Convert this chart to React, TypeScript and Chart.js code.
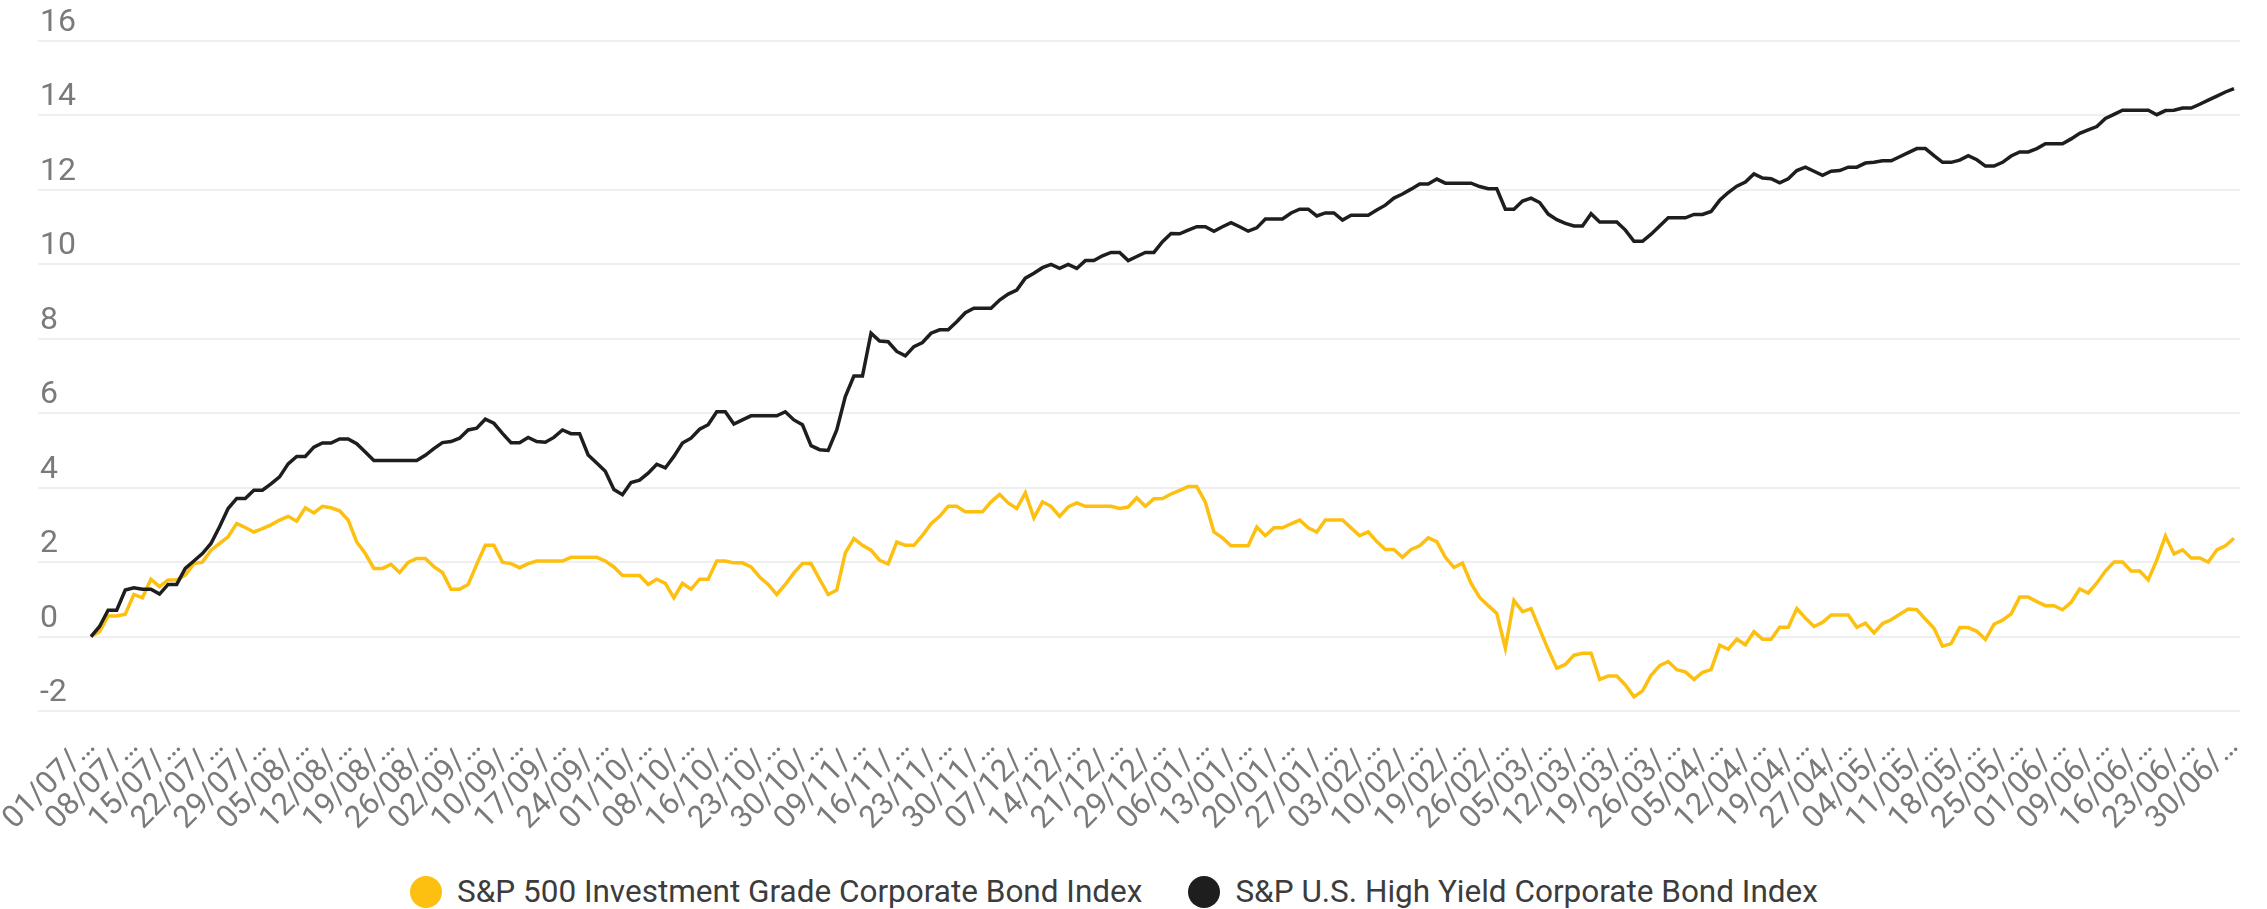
import React, { useEffect, useRef } from 'react';
import { Chart, registerables } from 'chart.js';

Chart.register(...registerables);

// Weekly tick labels (every 5th trading day)
const weekLabels = [
  '01/07', '08/07', '15/07', '22/07', '29/07', '05/08', '12/08', '19/08', '26/08', '02/09',
  '10/09', '17/09', '24/09', '01/10', '08/10', '16/10', '23/10', '30/10', '09/11', '16/11',
  '23/11', '30/11', '07/12', '14/12', '21/12', '29/12', '06/01', '13/01', '20/01', '27/01',
  '03/02', '10/02', '19/02', '26/02', '05/03', '12/03', '19/03', '26/03', '05/04', '12/04',
  '19/04', '27/04', '04/05', '11/05', '18/05', '25/05', '01/06', '09/06', '16/06', '23/06',
  '30/06',
];
const pointsPerTick = 5;

const seriesNames = [
  'S&P 500 Investment Grade Corporate Bond Index',
  'S&P U.S. High Yield Corporate Bond Index',
];
const seriesColors = ['#FDC010', '#1E1E1E'];

// Cumulative return (%) per trading day
const investmentGrade = [
  0.00, 0.13, 0.55, 0.55, 0.60, 1.13, 1.04, 1.54, 1.34, 1.52,
  1.52, 1.65, 1.96, 2.00, 2.32, 2.50, 2.68, 3.04, 2.93, 2.81,
  2.90, 3.00, 3.13, 3.23, 3.10, 3.46, 3.32, 3.50, 3.46, 3.38,
  3.13, 2.54, 2.23, 1.83, 1.83, 1.94, 1.72, 1.99, 2.10, 2.10,
  1.88, 1.72, 1.27, 1.27, 1.40, 1.94, 2.45, 2.45, 2.00, 1.96,
  1.85, 1.96, 2.03, 2.03, 2.03, 2.03, 2.13, 2.13, 2.13, 2.13,
  2.03, 1.87, 1.64, 1.64, 1.64, 1.40, 1.54, 1.43, 1.04, 1.43,
  1.27, 1.54, 1.54, 2.03, 2.03, 1.98, 1.98, 1.87, 1.60, 1.40,
  1.13, 1.40, 1.71, 1.96, 1.96, 1.54, 1.13, 1.25, 2.25, 2.63,
  2.45, 2.32, 2.05, 1.95, 2.54, 2.45, 2.45, 2.72, 3.03, 3.23,
  3.50, 3.50, 3.35, 3.35, 3.35, 3.62, 3.82, 3.59, 3.44, 3.86,
  3.19, 3.62, 3.50, 3.23, 3.48, 3.59, 3.50, 3.50, 3.50, 3.50,
  3.44, 3.48, 3.73, 3.50, 3.70, 3.71, 3.83, 3.93, 4.03, 4.03,
  3.61, 2.81, 2.65, 2.44, 2.44, 2.44, 2.94, 2.71, 2.92, 2.92,
  3.03, 3.13, 2.92, 2.81, 3.13, 3.13, 3.13, 2.92, 2.71, 2.81,
  2.55, 2.34, 2.34, 2.13, 2.34, 2.44, 2.65, 2.55, 2.13, 1.86,
  1.97, 1.43, 1.05, 0.83, 0.62, -0.31, 0.97, 0.67, 0.75, 0.20,
  -0.35, -0.85, -0.75, -0.50, -0.45, -0.45, -1.15, -1.06, -1.06, -1.30,
  -1.62, -1.46, -1.04, -0.78, -0.67, -0.89, -0.95, -1.15, -0.96, -0.89,
  -0.23, -0.34, -0.07, -0.22, 0.13, -0.07, -0.07, 0.25, 0.25, 0.75,
  0.50, 0.27, 0.38, 0.58, 0.58, 0.58, 0.25, 0.36, 0.10, 0.35,
  0.45, 0.60, 0.74, 0.72, 0.47, 0.22, -0.26, -0.19, 0.24, 0.24,
  0.14, -0.08, 0.33, 0.44, 0.61, 1.06, 1.06, 0.94, 0.83, 0.83,
  0.72, 0.92, 1.28, 1.17, 1.44, 1.76, 2.00, 2.00, 1.76, 1.76,
  1.52, 2.06, 2.70, 2.22, 2.33, 2.11, 2.11, 2.00, 2.33, 2.44,
  2.64,
];

const highYield = [
  0.00, 0.27, 0.71, 0.71, 1.25, 1.31, 1.27, 1.27, 1.14, 1.40,
  1.40, 1.83, 2.03, 2.23, 2.50, 2.95, 3.44, 3.71, 3.71, 3.93,
  3.93, 4.10, 4.29, 4.64, 4.84, 4.84, 5.09, 5.20, 5.20, 5.31,
  5.31, 5.18, 4.96, 4.73, 4.73, 4.73, 4.73, 4.73, 4.73, 4.87,
  5.05, 5.21, 5.24, 5.33, 5.55, 5.60, 5.84, 5.73, 5.46, 5.21,
  5.21, 5.35, 5.24, 5.22, 5.35, 5.55, 5.45, 5.45, 4.88, 4.66,
  4.44, 3.95, 3.81, 4.14, 4.20, 4.39, 4.63, 4.53, 4.84, 5.20,
  5.33, 5.57, 5.69, 6.04, 6.04, 5.71, 5.82, 5.93, 5.93, 5.93,
  5.93, 6.04, 5.82, 5.69, 5.13, 5.02, 5.00, 5.55, 6.45, 7.00,
  7.00, 8.15, 7.94, 7.92, 7.66, 7.54, 7.79, 7.90, 8.15, 8.24,
  8.24, 8.46, 8.70, 8.82, 8.82, 8.82, 9.04, 9.20, 9.31, 9.63,
  9.76, 9.91, 10.00, 9.89, 10.00, 9.89, 10.10, 10.10, 10.23, 10.32,
  10.32, 10.10, 10.21, 10.32, 10.32, 10.61, 10.83, 10.82, 10.92, 11.01,
  11.01, 10.89, 11.01, 11.12, 11.01, 10.89, 10.98, 11.22, 11.22, 11.22,
  11.38, 11.48, 11.48, 11.30, 11.38, 11.38, 11.19, 11.32, 11.32, 11.32,
  11.46, 11.59, 11.78, 11.89, 12.02, 12.16, 12.16, 12.29, 12.18, 12.18,
  12.18, 12.18, 12.09, 12.03, 12.03, 11.48, 11.48, 11.70, 11.78, 11.66,
  11.35, 11.20, 11.10, 11.03, 11.03, 11.36, 11.14, 11.14, 11.14, 10.92,
  10.62, 10.62, 10.81, 11.03, 11.25, 11.25, 11.25, 11.34, 11.34, 11.42,
  11.72, 11.93, 12.10, 12.21, 12.43, 12.32, 12.30, 12.19, 12.30, 12.52,
  12.61, 12.50, 12.39, 12.50, 12.52, 12.61, 12.61, 12.72, 12.74, 12.78,
  12.78, 12.89, 13.00, 13.11, 13.11, 12.92, 12.74, 12.74, 12.80, 12.92,
  12.81, 12.64, 12.64, 12.74, 12.91, 13.02, 13.02, 13.11, 13.24, 13.24,
  13.24, 13.37, 13.52, 13.61, 13.70, 13.92, 14.03, 14.14, 14.14, 14.14,
  14.14, 14.02, 14.13, 14.14, 14.20, 14.20, 14.30, 14.41, 14.52, 14.63,
  14.72,
];

const yMin = -2;
const yMax = 16;
const yStep = 2;

const FONT = 'Roboto, "Noto Sans", Arial, sans-serif';

function App() {
  const canvasRef = useRef<HTMLCanvasElement | null>(null);

  useEffect(() => {
    const canvas = canvasRef.current;
    if (!canvas) return;
    const lastIndex = (weekLabels.length - 1) * pointsPerTick;
    const toPoints = (arr: number[]) => arr.map((v, i) => ({ x: i, y: v }));

    const chart = new Chart(canvas, {
      type: 'line',
      data: {
        datasets: [
          {
            label: seriesNames[1],
            data: toPoints(highYield),
            borderColor: seriesColors[1],
            backgroundColor: seriesColors[1],
            borderWidth: 3.5,
            pointRadius: 0,
            tension: 0,
          },
          {
            label: seriesNames[0],
            data: toPoints(investmentGrade),
            borderColor: seriesColors[0],
            backgroundColor: seriesColors[0],
            borderWidth: 3.5,
            pointRadius: 0,
            tension: 0,
          },
        ],
      },
      options: {
        animation: false,
        responsive: true,
        maintainAspectRatio: false,
        layout: { padding: { left: 36, right: 27, top: 41, bottom: 0 } },
        plugins: {
          legend: { display: false },
          tooltip: { enabled: false },
        },
        scales: {
          x: {
            type: 'linear',
            min: -6.18,
            max: lastIndex + 0.7,
            grid: { display: false, drawTicks: false },
            border: { display: false },
            afterBuildTicks: (scale: any) => {
              scale.ticks = weekLabels.map((_, k) => ({ value: k * pointsPerTick }));
            },
            afterFit: (scale: any) => {
              scale.height = 159;
              scale.paddingLeft = 0;
              scale.paddingRight = 0;
              scale.paddingTop = 0;
              scale.paddingBottom = 0;
            },
            ticks: {
              autoSkip: false,
              minRotation: 45,
              maxRotation: 45,
              padding: 18,
              color: '#7a7a7a',
              font: { family: FONT, size: 31 },
              callback: (value: any) => {
                const k = Math.round(Number(value) / pointsPerTick);
                return weekLabels[k] !== undefined ? `${weekLabels[k]}/…` : '';
              },
            },
          },
          y: {
            min: yMin,
            max: yMax,
            grid: { color: '#efefef', lineWidth: 2, drawTicks: false },
            border: { display: false },
            afterFit: (scale: any) => {
              scale.width = 2;
              scale.paddingLeft = 0;
              scale.paddingRight = 0;
              scale.paddingTop = 0;
              scale.paddingBottom = 0;
            },
            ticks: {
              stepSize: yStep,
              mirror: true,
              padding: 2,
              labelOffset: -18,
              color: '#7a7a7a',
              font: { family: FONT, size: 32 },
            },
          },
        },
      },
    });
    return () => chart.destroy();
  }, []);

  const legendItems = [0, 1];

  return (
    <div
      style={{
        position: 'fixed',
        left: 0,
        top: 0,
        width: 2267,
        height: 909,
        background: '#ffffff',
        overflow: 'hidden',
      }}
    >
      <div style={{ position: 'absolute', left: 0, top: 0, width: 2267, height: 870 }}>
        <canvas ref={canvasRef} />
      </div>
      <div
        style={{
          position: 'absolute',
          left: 410,
          top: 876,
          height: 32,
          display: 'flex',
          alignItems: 'center',
          fontFamily: FONT,
          fontSize: 31.5,
          lineHeight: '32px',
          color: '#3c3c3c',
          whiteSpace: 'nowrap',
        }}
      >
        {legendItems.map((k) => (
          <div
            key={k}
            style={{ display: 'flex', alignItems: 'center', marginLeft: k === 0 ? 0 : 46 }}
          >
            <span
              style={{
                display: 'inline-block',
                width: 32,
                height: 32,
                borderRadius: '50%',
                background: seriesColors[k],
                marginRight: 15,
              }}
            />
            <span>{seriesNames[k]}</span>
          </div>
        ))}
      </div>
    </div>
  );
}

export default App;
